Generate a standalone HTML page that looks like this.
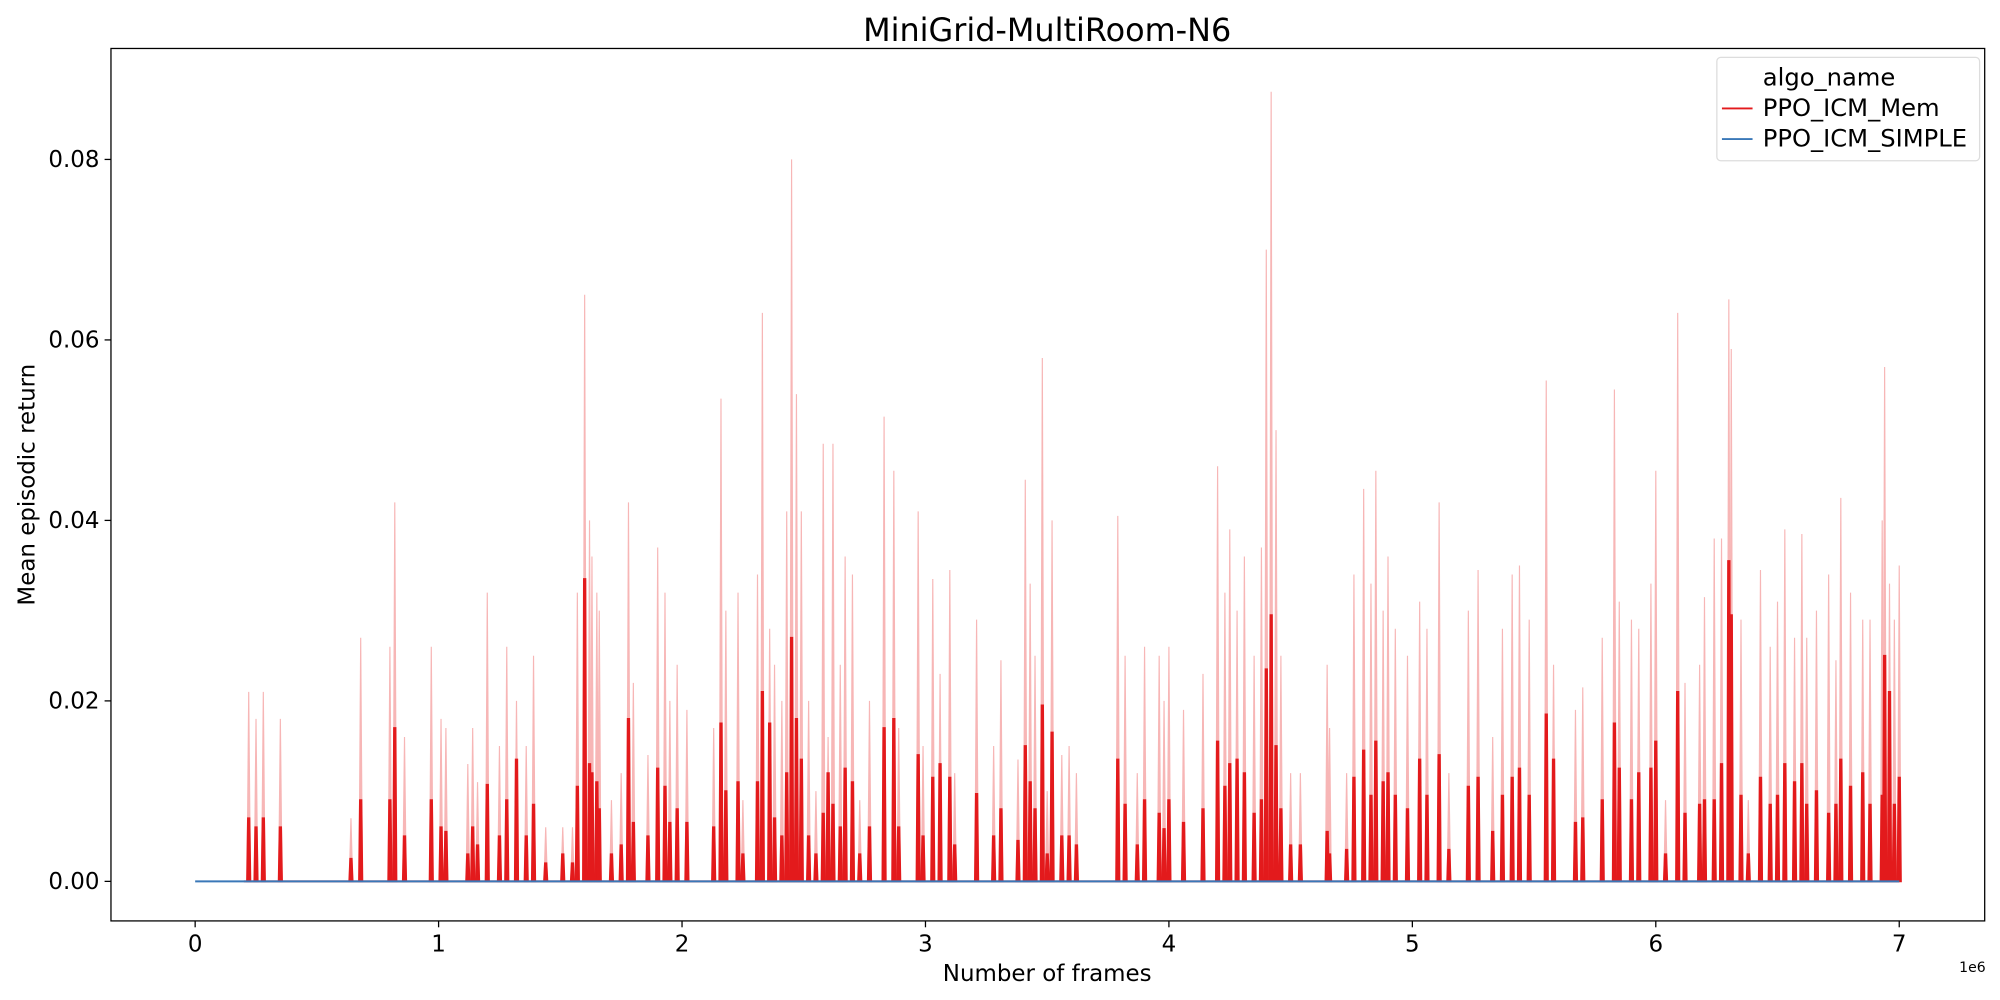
<!DOCTYPE html>
<html><head><meta charset="utf-8"><style>
html,body{margin:0;padding:0;background:#fff;}
svg{display:block;font-family:"DejaVu Sans","Liberation Sans",sans-serif;}
</style></head><body>
<svg width="2000" height="1000" viewBox="0 0 1568 784" xmlns="http://www.w3.org/2000/svg">
<rect width="1568" height="784" fill="#fff"/>
<g id="plot"></g>
<rect x="87" y="38" width="1469" height="684" fill="none" stroke="#000" stroke-width="1"/>
<text x="821" y="32" font-size="25" text-anchor="middle">MiniGrid-MultiRoom-N6</text>
<text x="821" y="769" font-size="18" text-anchor="middle">Number of frames</text>
<text transform="translate(27,380) rotate(-90)" font-size="18" text-anchor="middle">Mean episodic return</text>
<text x="1536" y="762" font-size="11">1e6</text>
<g id="ticks"></g>
<g>
<rect x="1346" y="45" width="206" height="81" rx="3" fill="#fff" stroke="#ddd"/>
<text x="1382" y="67" font-size="19">algo_name</text>
<line x1="1350" y1="85" x2="1374" y2="85" stroke="#e31a1c" stroke-width="1.5"/>
<text x="1382" y="91" font-size="19">PPO_ICM_Mem</text>
<line x1="1350" y1="109" x2="1374" y2="109" stroke="#3a78b8" stroke-width="1.5"/>
<text x="1382" y="115" font-size="19">PPO_ICM_SIMPLE</text>
</g>
</svg>
<script>
const frames=[0.22,0.25,0.28,0.35,0.64,0.68,0.80,0.82,0.86,0.97,1.01,1.03,1.12,1.14,1.16,1.20,1.25,1.28,1.32,1.36,1.39,1.44,1.51,1.55,1.57,1.60,1.62,1.63,1.65,1.66,1.71,1.75,1.78,1.80,1.86,1.90,1.93,1.95,1.98,2.02,2.13,2.16,2.18,2.23,2.25,2.31,2.33,2.36,2.38,2.41,2.43,2.45,2.47,2.49,2.52,2.55,2.58,2.60,2.62,2.65,2.67,2.70,2.73,2.77,2.83,2.87,2.89,2.97,2.99,3.03,3.06,3.10,3.12,3.21,3.28,3.31,3.38,3.41,3.43,3.45,3.48,3.50,3.52,3.56,3.59,3.62,3.79,3.82,3.87,3.90,3.96,3.98,4.00,4.06,4.14,4.20,4.23,4.25,4.28,4.31,4.35,4.38,4.40,4.42,4.44,4.46,4.50,4.54,4.65,4.66,4.73,4.76,4.80,4.83,4.85,4.88,4.90,4.93,4.98,5.03,5.06,5.11,5.15,5.23,5.27,5.33,5.37,5.41,5.44,5.48,5.55,5.58,5.67,5.70,5.78,5.83,5.85,5.90,5.93,5.98,6.00,6.04,6.09,6.12,6.18,6.20,6.24,6.27,6.30,6.31,6.35,6.38,6.43,6.47,6.50,6.53,6.57,6.60,6.62,6.66,6.71,6.74,6.76,6.80,6.85,6.88,6.93,6.94,6.96,6.98,7.00];
const memValues=[0.007,0.006,0.007,0.006,0.0025,0.009,0.009,0.017,0.005,0.009,0.006,0.0055,0.003,0.006,0.004,0.0107,0.005,0.009,0.0135,0.005,0.0085,0.002,0.003,0.002,0.0105,0.0335,0.013,0.012,0.011,0.008,0.003,0.004,0.018,0.0065,0.005,0.0125,0.0105,0.0065,0.008,0.0065,0.006,0.0175,0.01,0.011,0.003,0.011,0.021,0.0175,0.007,0.005,0.012,0.027,0.018,0.0135,0.005,0.003,0.0075,0.012,0.0085,0.006,0.0125,0.011,0.003,0.006,0.017,0.018,0.006,0.014,0.005,0.0115,0.013,0.0115,0.004,0.0097,0.005,0.008,0.0045,0.015,0.011,0.008,0.0195,0.003,0.0165,0.005,0.005,0.004,0.0135,0.0085,0.004,0.009,0.0075,0.0058,0.009,0.0065,0.008,0.0155,0.0105,0.013,0.0135,0.012,0.0075,0.009,0.0235,0.0295,0.015,0.008,0.004,0.004,0.0055,0.003,0.0035,0.0115,0.0145,0.0095,0.0155,0.011,0.012,0.0095,0.008,0.0135,0.0095,0.014,0.0035,0.0105,0.0115,0.0055,0.0095,0.0115,0.0125,0.0095,0.0185,0.0135,0.0065,0.007,0.009,0.0175,0.0125,0.009,0.012,0.0125,0.0155,0.003,0.021,0.0075,0.0085,0.009,0.009,0.013,0.0355,0.0295,0.0095,0.003,0.0115,0.0085,0.0095,0.013,0.011,0.013,0.0085,0.01,0.0075,0.0085,0.0135,0.0105,0.012,0.0085,0.0095,0.025,0.021,0.0085,0.0115];
const memUpper=[0.021,0.018,0.021,0.018,0.007,0.027,0.026,0.042,0.016,0.026,0.018,0.017,0.013,0.017,0.011,0.032,0.015,0.026,0.020,0.015,0.025,0.006,0.006,0.006,0.032,0.065,0.040,0.036,0.032,0.030,0.009,0.012,0.042,0.022,0.014,0.037,0.032,0.020,0.024,0.019,0.017,0.0535,0.03,0.032,0.009,0.034,0.063,0.028,0.024,0.02,0.041,0.080,0.054,0.041,0.02,0.01,0.0485,0.016,0.0485,0.024,0.036,0.034,0.009,0.02,0.0515,0.0455,0.017,0.041,0.015,0.0335,0.023,0.0345,0.012,0.029,0.015,0.0245,0.0135,0.0445,0.033,0.025,0.058,0.01,0.040,0.014,0.015,0.012,0.0405,0.025,0.012,0.026,0.025,0.02,0.026,0.019,0.023,0.046,0.032,0.039,0.030,0.036,0.025,0.037,0.070,0.0875,0.050,0.025,0.012,0.012,0.024,0.017,0.012,0.034,0.0435,0.033,0.0455,0.030,0.036,0.028,0.025,0.031,0.028,0.042,0.012,0.030,0.0345,0.016,0.028,0.034,0.035,0.029,0.0555,0.024,0.019,0.0215,0.027,0.0545,0.031,0.029,0.028,0.033,0.0455,0.009,0.063,0.022,0.024,0.0315,0.038,0.038,0.0645,0.059,0.029,0.009,0.0345,0.026,0.031,0.039,0.027,0.0385,0.027,0.030,0.034,0.0245,0.0425,0.032,0.029,0.029,0.040,0.057,0.033,0.029,0.035];
const xTicks=[0,1,2,3,4,5,6,7];
const yTicks=[0,0.02,0.04,0.06,0.08];
const yTickLabels=["0.00","0.02","0.04","0.06","0.08"];

const NS="http://www.w3.org/2000/svg";
const xs=v=>153+v*(1489-153)/7;
const ys=v=>691-v*(691-125)/0.08;
const plot=document.getElementById('plot');
const ticks=document.getElementById('ticks');
function mk(tag,attrs,parent){const e=document.createElementNS(NS,tag);for(const k in attrs)e.setAttribute(k,attrs[k]);parent.appendChild(e);return e;}
const d=0.007;
frames.forEach((f,i)=>{
  const p=mk('polygon',{points:`${xs(f-d)},${ys(0)} ${xs(f)},${ys(memUpper[i])} ${xs(f+d)},${ys(0)}`,fill:'#f7b6b6',stroke:'#f7b6b6','stroke-width':0.9},plot);
  
  
});
frames.forEach((f,i)=>{
  const l=mk('polygon',{points:`${xs(f-d)},${ys(0)} ${xs(f)-0.6},${ys(memValues[i])} ${xs(f)+0.6},${ys(memValues[i])} ${xs(f+d)},${ys(0)}`,fill:'#e31a1c',stroke:'#e31a1c','stroke-width':1.4},plot);
  
  
});
const base=mk('line',{x1:xs(0.2),y1:ys(0),x2:xs(7),y2:ys(0),stroke:'#e31a1c','stroke-width':1.5},plot);


const simple=mk('line',{x1:xs(0),y1:ys(0),x2:xs(7),y2:ys(0),stroke:'#3a78b8','stroke-width':1.5},plot);


xTicks.forEach(t=>{
  const l=mk('line',{x1:xs(t),x2:xs(t),y1:722,y2:727,stroke:'#000'},ticks);
  
  
  const tx=mk('text',{x:xs(t),y:746,'font-size':18,'text-anchor':'middle'},ticks);
  tx.textContent=t;
  
  
});
yTicks.forEach((t,i)=>{
  const l=mk('line',{x1:82,x2:87,y1:ys(t),y2:ys(t),stroke:'#000'},ticks);
  
  
  const tx=mk('text',{x:78,y:ys(t)+6,'font-size':18,'text-anchor':'end'},ticks);
  tx.textContent=yTickLabels[i];
  
  
});
</script>
</body></html>
